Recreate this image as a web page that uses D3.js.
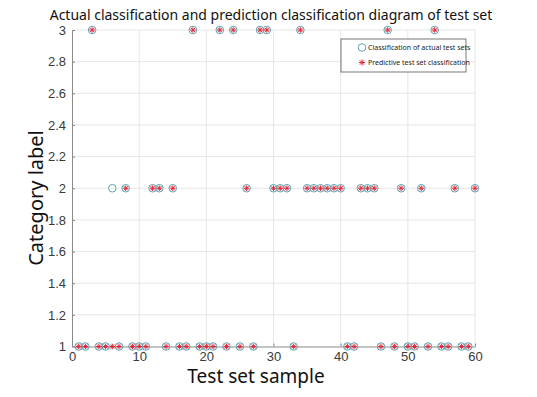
<!DOCTYPE html>
<html>
<head>
<meta charset="utf-8">
<script src="https://cdn.jsdelivr.net/npm/d3@7"></script>
<style>
  html, body { margin: 0; padding: 0; background: #fff; }
  svg { display: block; }
</style>
</head>
<body>
<svg id="chart" width="537" height="397"></svg>
<script>
// ---- data ----
const sampleIndex = d3.range(1, 61);
const actualClass = [1,1,3,1,1,2,1,2,1,1, 1,2,2,1,2,1,1,3,1,1, 1,3,1,3,1,2,1,3,3,2, 2,2,1,3,2,2,2,2,2,2, 1,1,2,2,2,1,3,1,2,1, 1,2,1,3,1,1,2,1,1,2];
const predictedClass = [1,1,3,1,1,1,1,2,1,1, 1,2,2,1,2,1,1,3,1,1, 1,3,1,3,1,2,1,3,3,2, 2,2,1,3,2,2,2,2,2,2, 1,1,2,2,2,1,3,1,2,1, 1,2,1,3,1,1,2,1,1,2];
const xTicks = [0, 10, 20, 30, 40, 50, 60];
const yTicks = [1, 1.2, 1.4, 1.6, 1.8, 2, 2.2, 2.4, 2.6, 2.8, 3];
const titleText = "Actual classification and prediction classification diagram of test set";
const xLabel = "Test set sample";
const yLabel = "Category label";
const legendLabels = ["Classification of actual test sets", "Predictive test set classification"];

// ---- layout ----
const svg = d3.select("#chart");
const L = 72, R = 475, T = 30, B = 346.5;
const x = d3.scaleLinear().domain([0, 60]).range([L, R]);
const y = d3.scaleLinear().domain([1, 3]).range([B, T]);
const circleColor = "#5fa3b3";
const starColor = "#e02a3c";
const sansTitle = "'Noto Sans', 'Open Sans', sans-serif";
const sansTick = "'Liberation Sans', Arial, sans-serif";

// grid
const grid = svg.append("g");
grid.selectAll("line.v").data(xTicks.slice(1)).join("line")
  .attr("x1", d => x(d)).attr("x2", d => x(d)).attr("y1", T).attr("y2", B)
  .attr("stroke", "#e6e6e6").attr("stroke-width", 1);
grid.selectAll("line.h").data(yTicks.slice(1)).join("line")
  .attr("x1", L).attr("x2", R).attr("y1", d => y(d)).attr("y2", d => y(d))
  .attr("stroke", "#e6e6e6").attr("stroke-width", 1);

// axes
const xAxis = d3.axisBottom(x).tickValues(xTicks).tickSizeInner(-3).tickSizeOuter(0).tickPadding(5).tickFormat(d3.format("d"));
const yAxis = d3.axisLeft(y).tickValues(yTicks).tickSizeInner(-3).tickSizeOuter(0).tickPadding(6).tickFormat(d => d3.format("~g")(d));
const gx = svg.append("g").attr("transform", `translate(0,${B})`).call(xAxis);
const gy = svg.append("g").attr("transform", `translate(${L},0)`).call(yAxis);
[gx, gy].forEach(g => {
  g.select(".domain").attr("stroke", "#8a8a8a");
  g.selectAll(".tick line").attr("stroke", "#8a8a8a");
  g.selectAll(".tick text").attr("fill", "#3a3a3a").style("font-family", sansTick).style("font-size", "13px");
});

// markers: actual (circles)
const pts = sampleIndex.map((s, i) => ({ s, a: actualClass[i], p: predictedClass[i] }));
svg.append("g").selectAll("circle").data(pts).join("circle")
  .attr("cx", d => x(d.s)).attr("cy", d => y(d.a)).attr("r", 3.8)
  .attr("fill", "none").attr("stroke", circleColor).attr("stroke-width", 1);

// markers: predicted (asterisks)
function star(g, cx, cy, r) {
  const a = r * 0.72;
  g.append("path")
    .attr("d", `M${cx - r},${cy}H${cx + r}M${cx},${cy - r}V${cy + r}M${cx - a},${cy - a}L${cx + a},${cy + a}M${cx - a},${cy + a}L${cx + a},${cy - a}`)
    .attr("stroke", starColor).attr("stroke-width", 1).attr("fill", "none");
}
const gs = svg.append("g");
pts.forEach(d => star(gs, x(d.s), y(d.p), 2.8));

// title
svg.append("text").attr("x", 271).attr("y", 20).attr("text-anchor", "middle")
  .style("font-family", sansTitle).style("font-size", "14px").attr("fill", "#111")
  .text(titleText);

// axis labels
svg.append("text").attr("x", 256).attr("y", 383).attr("text-anchor", "middle")
  .style("font-family", sansTitle).style("font-size", "19px").attr("fill", "#111")
  .text(xLabel);
svg.append("text").attr("transform", "translate(43,198) rotate(-90)").attr("text-anchor", "middle")
  .style("font-family", sansTitle).style("font-size", "20px").attr("fill", "#111")
  .text(yLabel);

// legend
const lg = svg.append("g");
lg.append("rect").attr("x", 341).attr("y", 39).attr("width", 125).attr("height", 33)
  .attr("fill", "#fff").attr("stroke", "#555").attr("stroke-width", 0.8);
lg.append("circle").attr("cx", 362).attr("cy", 47.5).attr("r", 3.8)
  .attr("fill", "none").attr("stroke", circleColor).attr("stroke-width", 1);
star(lg, 362, 62.5, 3);
legendLabels.forEach((t, i) => {
  lg.append("text").attr("x", 368).attr("y", 50 + i * 15)
    .style("font-family", sansTitle).style("font-size", "7px").attr("fill", "#222")
    .text(t);
});
</script>
</body>
</html>
